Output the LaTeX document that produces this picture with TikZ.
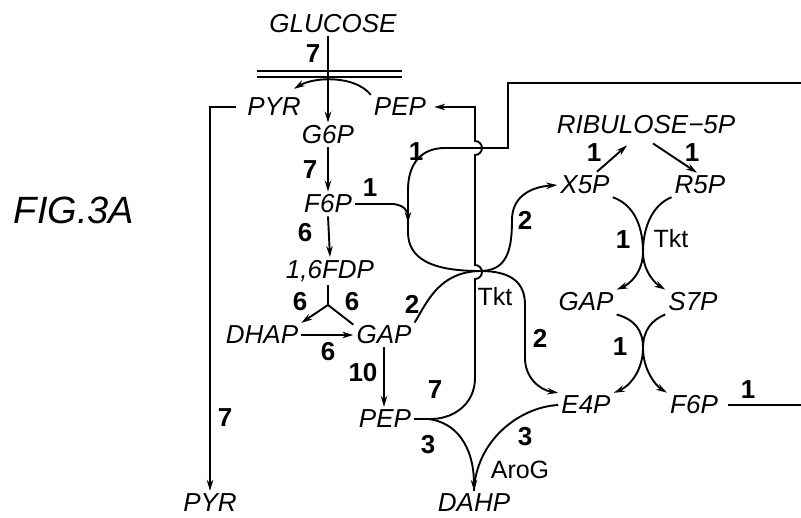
\documentclass[tikz,border=0pt]{standalone}
\usepackage{fontspec}
\setmainfont{Liberation Sans}
\usetikzlibrary{arrows.meta,calc}

\begin{document}
\begin{tikzpicture}[x=1pt, y=-1pt,
    met/.style={font=\fontsize{26}{26}\selectfont\itshape, inner sep=3pt},
    num/.style={font=\fontsize{26}{26}\selectfont\bfseries, inner sep=0pt},
    enz/.style={font=\fontsize{25}{25}\selectfont, inner sep=0pt},
    flux/.style={draw=black, line width=1.9pt},
    fluxarr/.style={flux, -{Stealth[length=11pt,width=6.5pt]}}]
  \useasboundingbox (0,0) rectangle (801,518);
  % title
  \node[font=\fontsize{38}{38}\selectfont\itshape] (fig) at (74,210) {FIG.3A};
  % metabolites
  \node[met] (glc) at (333,24) {GLUCOSE};
  \node[met] (pyrA) at (274,107) {PYR};
  \node[met] (pepA) at (400,107) {PEP};
  \node[met] (g6p) at (328,135) {G6P};
  \node[met] (f6pA) at (328,204) {F6P};
  \node[met] (fdp) at (330,271) {1,6FDP};
  \node[met] (dhap) at (262,335) {DHAP};
  \node[met] (gapA) at (384,335) {GAP};
  \node[met] (pepB) at (385,419) {PEP};
  \node[met] (pyrB) at (210,503) {PYR};
  \node[met] (dahp) at (474,503) {DAHP};
  \node[met] (ru5p) at (646,125) {RIBULOSE−5P};
  \node[met] (x5p) at (585,185) {X5P};
  \node[met] (r5p) at (700,185) {R5P};
  \node[met] (gapB) at (586,302) {GAP};
  \node[met] (s7p) at (693,302) {S7P};
  \node[met] (e4p) at (586,405) {E4P};
  \node[met] (f6pB) at (694,405) {F6P};
  % junctions
  \coordinate (tkt) at (480,271);
  \coordinate (fork) at (328,305);
  \coordinate (tktU) at (643,252);
  \coordinate (tktL) at (643,348);
  \coordinate (boxIn) at (801,83);
  \coordinate (boxOut) at (801,405);
  \coordinate (pepOut) at ($(pepB.east)+(14,0)$);
  % membrane
  \draw[flux, line width=1.4pt] (257,71) -- (402,71) (257,77) -- (402,77);
  % glucose uptake
  \draw[fluxarr] (glc.south -| g6p) -- (g6p.north);
  \node[num] (nGlc) at (313,54) {7};
  \draw[fluxarr] (pepA.north west) .. controls +(-16,-20) and +(20,-12) .. ($(pyrA.north east)+(-10,-6)$);
  \draw[fluxarr] ($(pyrA.west)+(-8,0)$) -| (pyrB.north);
  \node[num] (nPyr) at (225,418) {7};
  % glycolysis
  \draw[fluxarr] (g6p.south) -- (f6pA.north);
  \node[num] (nPgi) at (310,170) {7};
  \draw[fluxarr] (f6pA.south) -- (fdp.north);
  \node[num] (nPfk) at (305,233) {6};
  \draw[flux] (fdp.south -| fork) -- (fork);
  \draw[fluxarr] (fork) -- (dhap.north east);
  \draw[flux] (fork) -- ($(gapA.north west)+(0,2)$);
  \node[num] (nFbaL) at (300,302) {6};
  \node[num] (nFbaR) at (352,302) {6};
  \draw[fluxarr] (dhap.east) -- (gapA.west);
  \node[num] (nTpi) at (328,352) {6};
  \draw[fluxarr] (gapA.south) -- (gapA.south |- pepB.north);
  \node[num] (nGap) at (363,373) {10};
  % PEP recycling
  \draw[fluxarr] (pepB.east) -- (pepOut) .. controls (452,420) and (475,405) .. (475,378)
    -- (475,279) arc[start angle=-90, end angle=90, radius=7pt]
    -- (475,155) arc[start angle=-90, end angle=90, radius=7pt]
    |- ($(pepA.east)+(5,0)$);
  \node[num] (nPps) at (435,390) {7};
  % DAHP
  \draw[fluxarr] (pepOut) .. controls (455,422) and (474,445) .. (dahp.north);
  \draw[flux] (e4p.west) .. controls (520,407) and (476,440) .. (dahp.north);
  \node[num] (nPepD) at (428,445) {3};
  \node[num] (nE4pD) at (525,437) {3};
  \node[enz] (aroG) at (520,470) {AroG};
  % transketolase (left)
  \draw[fluxarr] (boxIn) -- (508,83) -- (508,148) -- (445,148)
    .. controls (420,148) and (408,165) .. (408,190) -- (408,232)
    .. controls (408,258) and (430,271) .. (tkt)
    .. controls (512,271) and (525,283) .. (525,305) -- (525,358)
    .. controls (525,378) and (540,390) .. (e4p.north west);
  \node[num] (nBox) at (416,152) {1};
  \draw[fluxarr] (f6pA.east) -- (393,204) .. controls (404,205) and (408,211) .. (408,223);
  \node[num] (nF6p) at (370,188) {1};
  \draw[fluxarr] (gapA.north east) .. controls (428,300) and (440,272) .. (tkt)
    .. controls (507,271) and (512,250) .. (512,220)
    .. controls (512,197) and (530,187) .. (x5p.west);
  \node[num] (nGapT) at (412,304) {2};
  \node[num] (nX5p) at (525,220) {2};
  \node[num] (nE4p) at (540,338) {2};
  \node[enz] (tktA) at (495,297) {Tkt};
  % pentose phosphate
  \draw[fluxarr] ($(x5p.north)+(12,-1)$) -- ($(ru5p.south)+(-19,8)$);
  \draw[fluxarr] ($(ru5p.south)+(7,6)$) -- ($(r5p.north)+(-3,0)$);
  \node[num] (nRpe) at (594,153) {1};
  \node[num] (nRpi) at (692,153) {1};
  \draw[fluxarr] (x5p.south east) .. controls (635,205) and (643,228) .. (tktU)
    .. controls (643,272) and (630,284) .. (gapB.north east);
  \draw[fluxarr] (r5p.south west) .. controls (652,205) and (643,228) .. (tktU)
    .. controls (643,272) and (656,284) .. (s7p.north west);
  \node[num] (nTktU) at (623,240) {1};
  \node[enz] (tktB) at (671,239) {Tkt};
  \draw[fluxarr] (gapB.south east) .. controls (635,320) and (643,330) .. (tktL)
    .. controls (643,370) and (630,386) .. (e4p.north east);
  \draw[fluxarr] (s7p.south west) .. controls (652,320) and (643,330) .. (tktL)
    .. controls (643,370) and (656,386) .. (f6pB.north west);
  \node[num] (nTal) at (620,347) {1};
  \draw[flux] ($(f6pB.east)+(7,0)$) -- (boxOut);
  \node[num] (nOut) at (748,390) {1};
\end{tikzpicture}
\end{document}
